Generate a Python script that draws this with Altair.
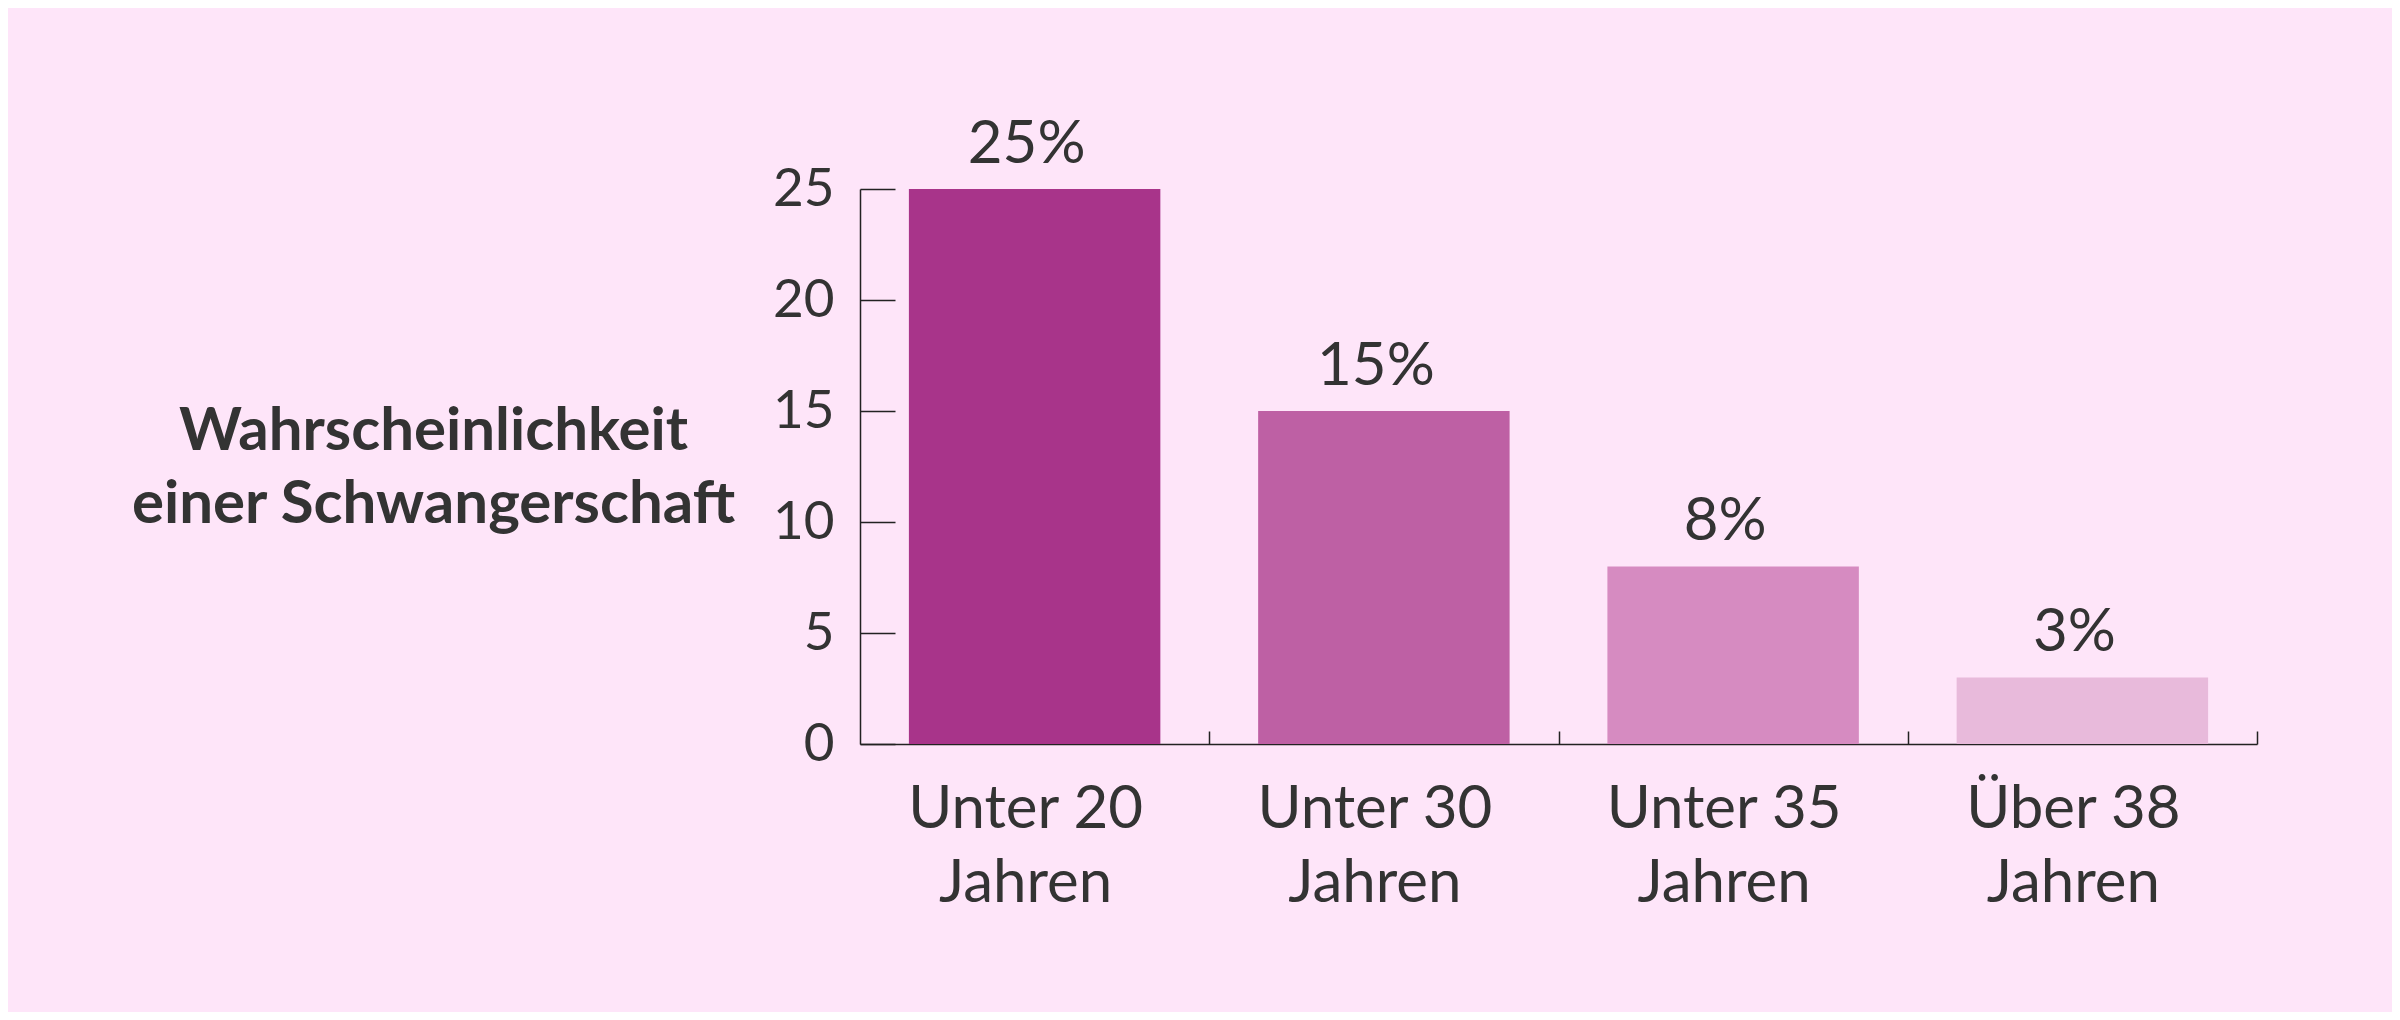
import altair as alt
import pandas as pd

categories = ["Unter 20 Jahren", "Unter 30 Jahren", "Unter 35 Jahren", "Über 38 Jahren"]
values = [25, 15, 8, 3]
colors = ["#a8348a", "#be60a4", "#d68bc1", "#e8badb"]
y_ticks = [0, 5, 10, 15, 20, 25]
y_title = ["Wahrscheinlichkeit", "einer Schwangerschaft"]

df = pd.DataFrame({"cat": categories, "value": values, "color": colors})

W, H = 1397, 555
FONT = "Lato"
TXT = "#333333"
AX = "#222222"
BG = "#fee5f9"

x_scale = alt.Scale(domain=categories, paddingInner=0.28, paddingOuter=0.14)
y_scale = alt.Scale(domain=[0, 25], nice=False)

label_expr = ("[slice(datum.label, 0, lastindexof(datum.label, ' ')), "
              "slice(datum.label, lastindexof(datum.label, ' ') + 1)]")

bars = alt.Chart(df).mark_bar().encode(
    x=alt.X("cat:N", sort=categories, scale=x_scale,
            axis=alt.Axis(orient="bottom", title="", ticks=False, tickSize=0,
                          domain=True, domainColor=AX, domainWidth=1.5,
                          labelExpr=label_expr, labelFont=FONT, labelFontSize=60,
                          labelColor=TXT, labelBaseline="alphabetic", labelPadding=83,
                          labelLineHeight=74, labelAngle=0, labelOffset=-9,
                          labelLimit=600, grid=False)),
    y=alt.Y("value:Q", scale=y_scale,
            axis=alt.Axis(orient="left", values=y_ticks, ticks=False, tickSize=0,
                          domainColor=AX, domainWidth=1.5, labelFont=FONT,
                          labelFontSize=53, labelColor=TXT, labelPadding=26,
                          labelBaseline="middle", grid=False, title=y_title,
                          titleAngle=0, titleFont=FONT, titleFontSize=60,
                          titleFontWeight="bold", titleColor=TXT, titleAlign="center",
                          titleBaseline="alphabetic", titleX=-427, titleY=260,
                          titleLineHeight=73, titleLimit=1000)),
    color=alt.Color("color:N", scale=None),
)

labels = alt.Chart(df).transform_calculate(
    lbl="datum.value + '%'"
).mark_text(dy=-26, dx=-8, baseline="alphabetic", align="center", fontSize=60,
            font=FONT, color=TXT).encode(
    x=alt.X("cat:N", sort=categories, scale=x_scale,
            axis=alt.Axis(orient="top", offset=-H, labels=False, domain=False,
                          ticks=True, tickSize=13, tickColor=AX, tickWidth=1.5,
                          bandPosition=0.5, tickOffset=W / 8, title="", grid=False)),
    y=alt.Y("value:Q", scale=y_scale,
            axis=alt.Axis(orient="right", offset=-W, values=y_ticks, labels=False,
                          domain=False, ticks=True, tickSize=35, tickColor=AX,
                          tickWidth=1.5, title="", grid=False)),
    text="lbl:N",
)

chart = alt.layer(bars, labels).resolve_axis(
    x="independent", y="independent"
).properties(
    width=W, height=H,
    padding={"left": 852, "top": 181, "right": 135, "bottom": 268},
    autosize=alt.AutoSizeParams(type="none"),
    background=BG,
).configure_view(stroke="transparent")

chart.save("out.html", embed_options={"renderer": "svg", "actions": False})
